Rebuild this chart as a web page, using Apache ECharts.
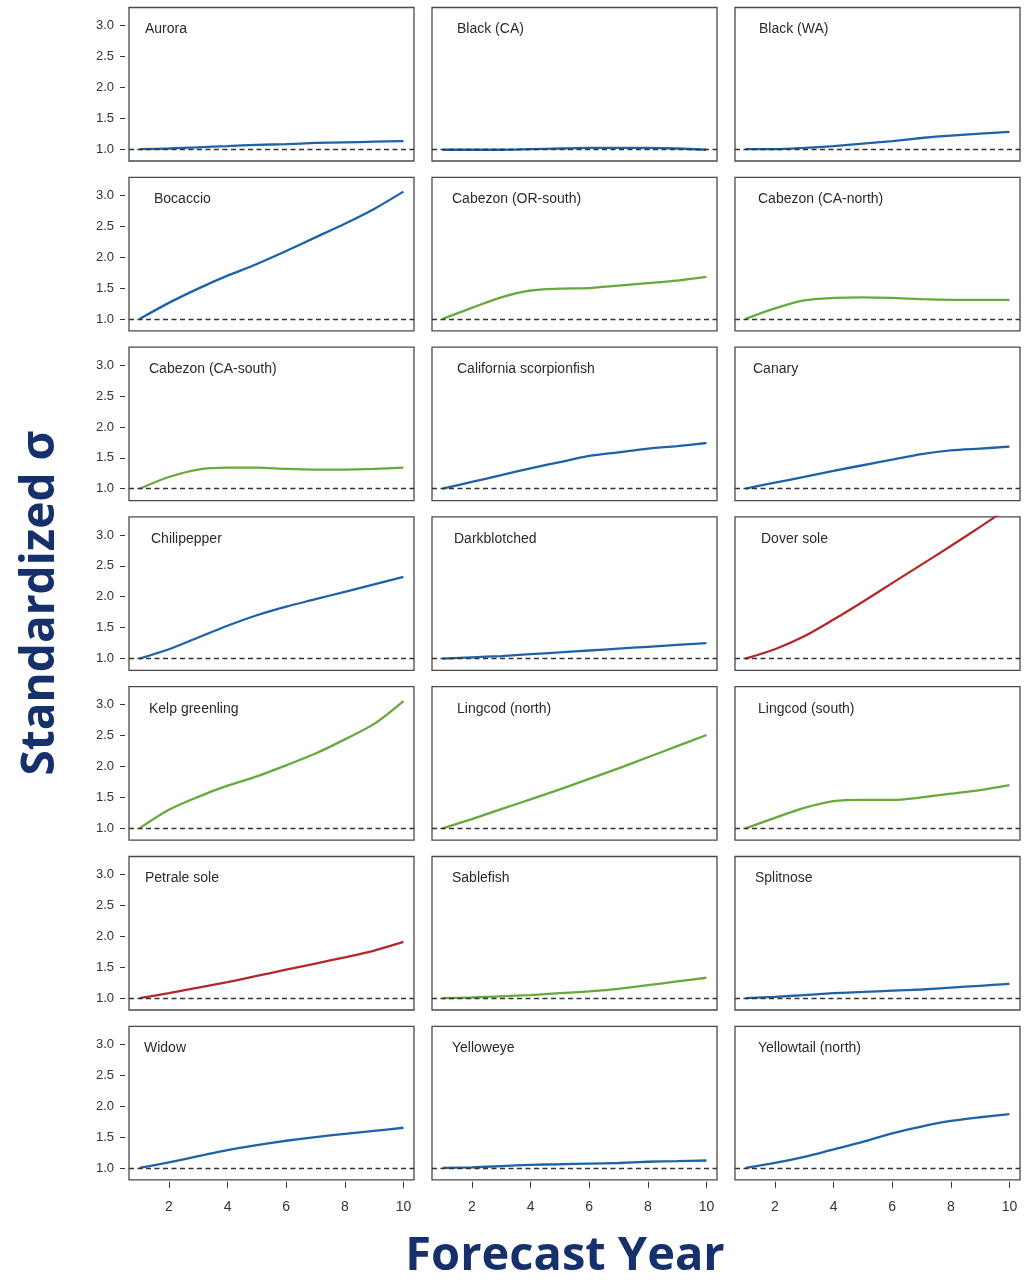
<!DOCTYPE html>
<html>
<head>
<meta charset="utf-8">
<script src="https://cdn.jsdelivr.net/npm/echarts@6/dist/echarts.min.js"></script>
<style>
html,body{margin:0;padding:0;background:#fff;}
#chart{width:1025px;height:1282px;}
</style>
</head>
<body>
<div id="chart"></div>
<script>
// ---------------- data ----------------
const years = [1, 2, 3, 4, 5, 6, 7, 8, 9, 10];
const xTickValues = [2, 4, 6, 8, 10];
const yTickValues = [1.0, 1.5, 2.0, 2.5, 3.0];
const xAxisTitle = 'Forecast Year';
const yAxisTitle = 'Standardized σ';

const panelNames = [
  'Aurora', 'Black (CA)', 'Black (WA)',
  'Bocaccio', 'Cabezon (OR-south)', 'Cabezon (CA-north)',
  'Cabezon (CA-south)', 'California scorpionfish', 'Canary',
  'Chilipepper', 'Darkblotched', 'Dover sole',
  'Kelp greenling', 'Lingcod (north)', 'Lingcod (south)',
  'Petrale sole', 'Sablefish', 'Splitnose',
  'Widow', 'Yelloweye', 'Yellowtail (north)'
];
// group of each panel (selects the line colour)
const panelGroup = [
  'blue', 'blue', 'blue',
  'blue', 'green', 'green',
  'green', 'blue', 'blue',
  'blue', 'blue', 'red',
  'green', 'green', 'green',
  'red', 'green', 'blue',
  'blue', 'blue', 'blue'
];

const aurora        = [1.00, 1.01, 1.03, 1.05, 1.07, 1.08, 1.10, 1.11, 1.12, 1.13];
const blackCA       = [0.99, 0.99, 0.99, 1.00, 1.01, 1.02, 1.02, 1.02, 1.01, 0.99];
const blackWA       = [1.00, 1.00, 1.02, 1.05, 1.09, 1.13, 1.18, 1.22, 1.25, 1.28];
const bocaccio      = [1.00, 1.26, 1.49, 1.70, 1.89, 2.10, 2.32, 2.54, 2.78, 3.06];
const cabezonORS    = [1.00, 1.18, 1.35, 1.46, 1.49, 1.50, 1.54, 1.58, 1.62, 1.68];
const cabezonCAN    = [1.00, 1.17, 1.30, 1.34, 1.35, 1.34, 1.32, 1.31, 1.31, 1.31];
const cabezonCAS    = [1.00, 1.19, 1.31, 1.34, 1.34, 1.32, 1.31, 1.31, 1.32, 1.34];
const calScorpion   = [1.00, 1.11, 1.22, 1.33, 1.43, 1.53, 1.59, 1.65, 1.69, 1.74];
const canary        = [1.00, 1.10, 1.19, 1.29, 1.38, 1.47, 1.56, 1.62, 1.65, 1.68];
const chilipepper   = [1.00, 1.15, 1.34, 1.53, 1.70, 1.84, 1.96, 2.08, 2.20, 2.32];
const darkblotched  = [1.00, 1.02, 1.04, 1.07, 1.10, 1.13, 1.16, 1.19, 1.22, 1.25];
const doverSole     = [1.00, 1.15, 1.36, 1.63, 1.92, 2.22, 2.52, 2.82, 3.13, 3.45];
const kelpGreenling = [1.00, 1.30, 1.51, 1.69, 1.84, 2.02, 2.21, 2.44, 2.69, 3.06];
const lingcodN      = [1.00, 1.15, 1.31, 1.47, 1.63, 1.80, 1.97, 2.15, 2.33, 2.51];
const lingcodS      = [1.00, 1.17, 1.33, 1.44, 1.46, 1.46, 1.50, 1.56, 1.62, 1.70];
const petraleSole   = [1.00, 1.08, 1.17, 1.26, 1.36, 1.46, 1.56, 1.66, 1.77, 1.91];
const sablefish     = [1.00, 1.01, 1.03, 1.05, 1.08, 1.11, 1.15, 1.21, 1.27, 1.33];
const splitnose     = [1.00, 1.02, 1.05, 1.08, 1.10, 1.12, 1.14, 1.17, 1.20, 1.23];
const widow         = [1.00, 1.09, 1.19, 1.29, 1.37, 1.44, 1.50, 1.55, 1.60, 1.65];
const yelloweye     = [1.00, 1.01, 1.03, 1.05, 1.06, 1.07, 1.08, 1.10, 1.11, 1.12];
const yellowtailN   = [1.00, 1.08, 1.18, 1.30, 1.42, 1.56, 1.67, 1.76, 1.82, 1.87];

const panelValues = [
  aurora, blackCA, blackWA,
  bocaccio, cabezonORS, cabezonCAN,
  cabezonCAS, calScorpion, canary,
  chilipepper, darkblotched, doverSole,
  kelpGreenling, lingcodN, lingcodS,
  petraleSole, sablefish, splitnose,
  widow, yelloweye, yellowtailN
];
const referenceLevel = 1;

// ---------------- styling / layout ----------------
const groupColor = { blue: '#1f62a5', green: '#67a93c', red: '#b3282b' };
const NCOL = 3, NROW = 7;
const colLeft = 129, colPitch = 303, panelW = 285;
const rowTop = 7.5, rowPitch = 169.8, panelH = 153.5;
const xMin = 0.64, xMax = 10.36;
const yMin = 0.808, yMax = 3.292;
const labelFont = 'Liberation Sans, Arial, sans-serif';
const titleColor = '#16306c';
const bigFont = '"Open Sans", Lato, sans-serif';
// horizontal inset of each panel's label inside its box (px)
const titleInset = [16, 25, 24, 25, 20, 23, 20, 25, 18, 22, 22, 26, 20, 25, 23, 16, 20, 20, 15, 20, 23];

const grids = [], xAxes = [], yAxes = [], series = [], titles = [];
panelNames.forEach((name, i) => {
  const r = Math.floor(i / NCOL), c = i % NCOL;
  const left = colLeft + c * colPitch;
  const top = rowTop + r * rowPitch;
  grids.push({
    left: left, top: top, width: panelW, height: panelH,
    show: true, borderColor: '#4a4a4a', borderWidth: 1.3,
    backgroundColor: 'transparent'
  });
  const bottomRow = r === NROW - 1;
  const firstCol = c === 0;
  xAxes.push({
    type: 'value', gridIndex: i, min: xMin, max: xMax,
    offset: 2,
    axisLine: { show: false },
    splitLine: { show: false },
    axisTick: { show: bottomRow, customValues: xTickValues, length: 6, lineStyle: { color: '#333' } },
    axisLabel: { show: bottomRow, customValues: xTickValues, margin: 18,
      fontSize: 14, color: '#333', fontFamily: labelFont }
  });
  yAxes.push({
    type: 'value', gridIndex: i, min: yMin, max: yMax,
    offset: 4,
    axisLine: { show: false },
    splitLine: { show: false },
    axisTick: { show: firstCol, customValues: yTickValues, length: 5, lineStyle: { color: '#333' } },
    axisLabel: { show: firstCol, customValues: yTickValues, margin: 11,
      fontSize: 13, color: '#333', fontFamily: labelFont,
      formatter: v => v.toFixed(1) }
  });
  series.push({
    type: 'line', xAxisIndex: i, yAxisIndex: i,
    data: years.map((y, k) => [y, panelValues[i][k]]),
    showSymbol: false, smooth: 0.3, clip: true,
    lineStyle: { color: groupColor[panelGroup[i]], width: 2.3 },
    itemStyle: { color: groupColor[panelGroup[i]] },
    markLine: {
      silent: true, symbol: 'none', animation: false,
      label: { show: false },
      lineStyle: { type: [5, 3.5], color: '#333', width: 1.3 },
      data: [{ yAxis: referenceLevel }]
    },
    animation: false
  });
  titles.push({
    text: name, left: left + titleInset[i], top: top + 15, padding: 0,
    textStyle: { fontSize: 14, fontWeight: 'normal', color: '#2a2a2a', fontFamily: labelFont }
  });
});

const chart = echarts.init(document.getElementById('chart'), null, { renderer: 'canvas' });
chart.setOption({
  backgroundColor: '#ffffff',
  animation: false,
  title: titles,
  grid: grids,
  xAxis: xAxes,
  yAxis: yAxes,
  series: series,
  graphic: [
    {
      type: 'text', x: 41, y: 603, rotation: Math.PI / 2,
      style: {
        text: yAxisTitle, fill: titleColor,
        font: 'bold 46px ' + bigFont,
        textAlign: 'center', textVerticalAlign: 'middle'
      }
    },
    {
      type: 'text', x: 565, y: 1257,
      style: {
        text: xAxisTitle, fill: titleColor,
        font: 'bold 47px ' + bigFont,
        textAlign: 'center', textVerticalAlign: 'middle'
      }
    }
  ]
});
</script>
</body>
</html>
